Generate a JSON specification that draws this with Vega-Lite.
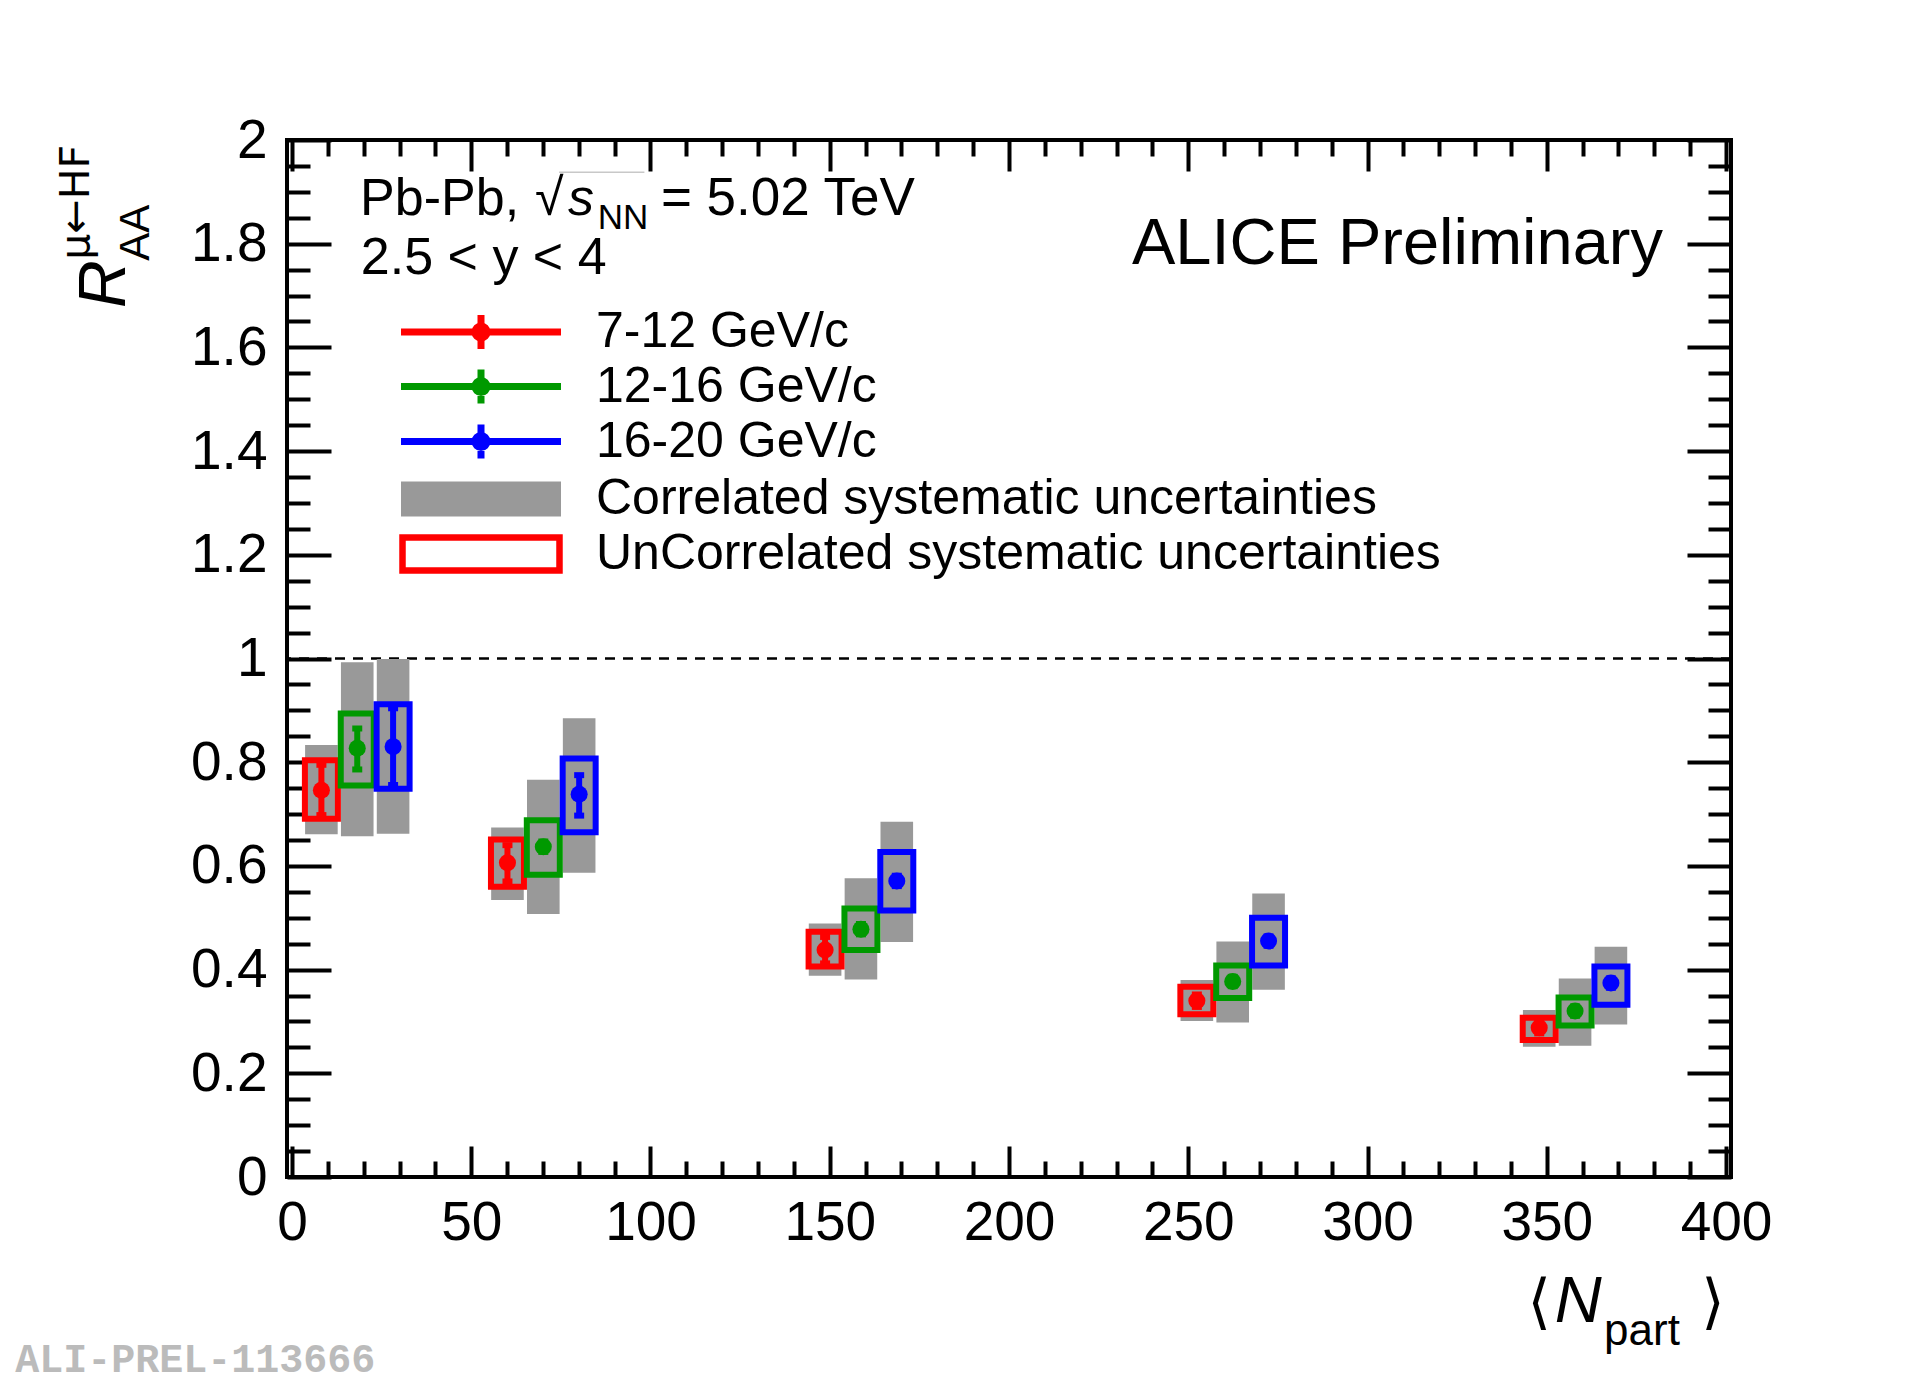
{
  "$schema": "https://vega.github.io/schema/vega-lite/v6.json",
  "width": 1444,
  "height": 1037,
  "autosize": "none",
  "padding": {"left": 287, "top": 140, "right": 189, "bottom": 208},
  "background": "white",
  "data": {
    "values": [
      {"npart": 8.2, "series": "7-12 GeV/c", "raa": 0.746, "stat_lo": 0.698, "stat_hi": 0.795, "unc_lo": 0.691, "unc_hi": 0.804, "cor_lo": 0.661, "cor_hi": 0.833},
      {"npart": 18.2, "series": "12-16 GeV/c", "raa": 0.827, "stat_lo": 0.786, "stat_hi": 0.865, "unc_lo": 0.755, "unc_hi": 0.894, "cor_lo": 0.657, "cor_hi": 0.993},
      {"npart": 28.2, "series": "16-20 GeV/c", "raa": 0.83, "stat_lo": 0.756, "stat_hi": 0.904, "unc_lo": 0.749, "unc_hi": 0.912, "cor_lo": 0.662, "cor_hi": 0.999},
      {"npart": 60.1, "series": "7-12 GeV/c", "raa": 0.606, "stat_lo": 0.57, "stat_hi": 0.64, "unc_lo": 0.56, "unc_hi": 0.651, "cor_lo": 0.534, "cor_hi": 0.674},
      {"npart": 70.1, "series": "12-16 GeV/c", "raa": 0.637, "stat_lo": 0.627, "stat_hi": 0.647, "unc_lo": 0.583, "unc_hi": 0.688, "cor_lo": 0.507, "cor_hi": 0.766},
      {"npart": 80.1, "series": "16-20 GeV/c", "raa": 0.738, "stat_lo": 0.697, "stat_hi": 0.775, "unc_lo": 0.665, "unc_hi": 0.807, "cor_lo": 0.587, "cor_hi": 0.885},
      {"npart": 148.7, "series": "7-12 GeV/c", "raa": 0.438, "stat_lo": 0.412, "stat_hi": 0.463, "unc_lo": 0.406, "unc_hi": 0.473, "cor_lo": 0.388, "cor_hi": 0.489},
      {"npart": 158.7, "series": "12-16 GeV/c", "raa": 0.478, "stat_lo": 0.468, "stat_hi": 0.488, "unc_lo": 0.438, "unc_hi": 0.518, "cor_lo": 0.381, "cor_hi": 0.576},
      {"npart": 168.7, "series": "16-20 GeV/c", "raa": 0.571, "stat_lo": 0.561, "stat_hi": 0.581, "unc_lo": 0.514, "unc_hi": 0.627, "cor_lo": 0.453, "cor_hi": 0.685},
      {"npart": 252.4, "series": "7-12 GeV/c", "raa": 0.34, "stat_lo": 0.328, "stat_hi": 0.352, "unc_lo": 0.314, "unc_hi": 0.367, "cor_lo": 0.301, "cor_hi": 0.38},
      {"npart": 262.4, "series": "12-16 GeV/c", "raa": 0.377, "stat_lo": 0.368, "stat_hi": 0.386, "unc_lo": 0.345, "unc_hi": 0.408, "cor_lo": 0.298, "cor_hi": 0.454},
      {"npart": 272.4, "series": "16-20 GeV/c", "raa": 0.455, "stat_lo": 0.446, "stat_hi": 0.464, "unc_lo": 0.408, "unc_hi": 0.5, "cor_lo": 0.361, "cor_hi": 0.547},
      {"npart": 347.9, "series": "7-12 GeV/c", "raa": 0.288, "stat_lo": 0.277, "stat_hi": 0.299, "unc_lo": 0.264, "unc_hi": 0.307, "cor_lo": 0.251, "cor_hi": 0.322},
      {"npart": 357.9, "series": "12-16 GeV/c", "raa": 0.32, "stat_lo": 0.311, "stat_hi": 0.329, "unc_lo": 0.292, "unc_hi": 0.346, "cor_lo": 0.253, "cor_hi": 0.383},
      {"npart": 367.9, "series": "16-20 GeV/c", "raa": 0.374, "stat_lo": 0.365, "stat_hi": 0.383, "unc_lo": 0.332, "unc_hi": 0.406, "cor_lo": 0.294, "cor_hi": 0.444}
    ]
  },
  "resolve": {"axis": {"x": "independent", "y": "independent"}, "legend": {"color": "independent"}},
  "layer": [
    {
      "data": {"values": [{}]},
      "mark": {"type": "rule", "color": "black", "strokeWidth": 2.5, "strokeDash": [10, 8]},
      "encoding": {
        "y": {"datum": 1, "type": "quantitative", "axis": null, "scale": {"domain": [0, 2], "nice": false}}
      }
    },
    {
      "mark": {"type": "bar", "width": 32.6, "strokeWidth": 0},
      "encoding": {
        "x": {
          "field": "npart", "type": "quantitative",
          "scale": {"domain": [0, 400], "nice": false},
          "axis": {
            "orient": "bottom",
            "values": [0,10,20,30,40,50,60,70,80,90,100,110,120,130,140,150,160,170,180,190,200,210,220,230,240,250,260,270,280,290,300,310,320,330,340,350,360,370,380,390,400],
            "domain": false, "grid": false, "ticks": true,
            "tickColor": "black", "tickWidth": 4,
            "tickSize": {"condition": {"test": "datum.value % 50 === 0", "value": -31}, "value": -16},
            "labelExpr": "datum.value % 50 === 0 ? format(datum.value, 'd') : ''",
            "labelFont": "Liberation Sans", "labelFontSize": 55, "labelColor": "black",
            "labelPadding": 50, "labelFlush": false, "labelOverlap": false, "labelBound": false,
            "title": null, "zindex": 0
          }
        },
        "y": {
          "field": "cor_lo", "type": "quantitative",
          "scale": {"domain": [0, 2], "nice": false},
          "axis": {
            "orient": "left",
            "values": [0,0.05,0.1,0.15,0.2,0.25,0.3,0.35,0.4,0.45,0.5,0.55,0.6,0.65,0.7,0.75,0.8,0.85,0.9,0.95,1,1.05,1.1,1.15,1.2,1.25,1.3,1.35,1.4,1.45,1.5,1.55,1.6,1.65,1.7,1.75,1.8,1.85,1.9,1.95,2],
            "domain": false, "grid": false, "ticks": true,
            "tickColor": "black", "tickWidth": 4,
            "tickSize": {"condition": {"test": "abs(datum.value * 5 - round(datum.value * 5)) < 0.001", "value": -44}, "value": -23},
            "labelExpr": "abs(datum.value * 5 - round(datum.value * 5)) < 0.001 ? format(datum.value, '~g') : ''",
            "labelFont": "Liberation Sans", "labelFontSize": 55, "labelColor": "black",
            "labelPadding": 64, "labelFlush": false, "labelOverlap": false, "labelBound": false,
            "title": null, "zindex": 0
          }
        },
        "y2": {"field": "cor_hi"},
        "fill": {
          "datum": "Correlated systematic uncertainties", "type": "nominal",
          "scale": {"range": ["#999999"]},
          "legend": {
            "orient": "none", "legendX": 169, "legendY": 334, "title": null, "padding": 0,
            "symbolType": "M-3.478,-0.761H3.478V0.761H-3.478Z",
            "symbolSize": 2116, "symbolStrokeWidth": 0,
            "labelFont": "Liberation Sans", "labelFontSize": 50, "labelColor": "black",
            "labelOffset": 90, "labelLimit": 2000
          }
        }
      }
    },
    {
      "mark": {"type": "bar", "filled": false, "width": 33, "strokeWidth": 6},
      "encoding": {
        "x": {
          "field": "npart", "type": "quantitative",
          "scale": {"domain": [0, 400], "nice": false},
          "axis": {
            "orient": "top",
            "values": [0,10,20,30,40,50,60,70,80,90,100,110,120,130,140,150,160,170,180,190,200,210,220,230,240,250,260,270,280,290,300,310,320,330,340,350,360,370,380,390,400],
            "domain": false, "grid": false, "ticks": true, "labels": false,
            "tickColor": "black", "tickWidth": 4,
            "tickSize": {"condition": {"test": "datum.value % 50 === 0", "value": -31}, "value": -16},
            "title": null, "zindex": 0
          }
        },
        "y": {
          "field": "unc_lo", "type": "quantitative",
          "scale": {"domain": [0, 2], "nice": false},
          "axis": {
            "orient": "right",
            "values": [0,0.05,0.1,0.15,0.2,0.25,0.3,0.35,0.4,0.45,0.5,0.55,0.6,0.65,0.7,0.75,0.8,0.85,0.9,0.95,1,1.05,1.1,1.15,1.2,1.25,1.3,1.35,1.4,1.45,1.5,1.55,1.6,1.65,1.7,1.75,1.8,1.85,1.9,1.95,2],
            "domain": false, "grid": false, "ticks": true, "labels": false,
            "tickColor": "black", "tickWidth": 4,
            "tickSize": {"condition": {"test": "abs(datum.value * 5 - round(datum.value * 5)) < 0.001", "value": -44}, "value": -23},
            "title": null, "zindex": 0
          }
        },
        "y2": {"field": "unc_hi"},
        "color": {
          "field": "series", "type": "nominal",
          "scale": {"domain": ["7-12 GeV/c", "12-16 GeV/c", "16-20 GeV/c"], "range": ["#ff0000", "#009900", "#0000ff"]},
          "legend": null
        },
        "opacity": {
          "datum": "UnCorrelated systematic uncertainties", "type": "ordinal",
          "scale": {"range": [1]},
          "legend": {
            "orient": "none", "legendX": 167.5, "legendY": 387.5, "title": null, "padding": 0,
            "symbolType": "M-3.413,-0.717H3.413V0.717H-3.413Z",
            "symbolSize": 2116, "symbolStrokeColor": "#ff0000", "symbolStrokeWidth": 6.5,
            "symbolFillColor": "transparent",
            "labelFont": "Liberation Sans", "labelFontSize": 50, "labelColor": "black",
            "labelOffset": 88.5, "labelLimit": 2000
          }
        }
      }
    },
    {
      "mark": {"type": "rule", "strokeWidth": 6, "opacity": 1},
      "encoding": {
        "x": {"field": "npart", "type": "quantitative", "axis": null},
        "y": {"field": "stat_lo", "type": "quantitative", "axis": null},
        "y2": {"field": "stat_hi"},
        "color": {
          "field": "series", "type": "nominal",
          "scale": {"domain": ["7-12 GeV/c", "12-16 GeV/c", "16-20 GeV/c"], "range": ["#ff0000", "#009900", "#0000ff"]},
          "legend": {
            "orient": "none", "legendX": 167.5, "legendY": 165.5, "title": null, "padding": 0,
            "values": ["7-12 GeV/c"],
            "symbolType": "M-3.478,0H3.478M0,-0.739V0.739M0.261,0A0.261,0.261,0,1,1,-0.261,0A0.261,0.261,0,1,1,0.261,0M0.109,0A0.109,0.109,0,1,1,-0.109,0A0.109,0.109,0,1,1,0.109,0",
            "symbolSize": 2116, "symbolStrokeWidth": 7, "symbolOpacity": 1,
            "labelFont": "Liberation Sans", "labelFontSize": 50, "labelColor": "black",
            "labelOffset": 88.5, "labelLimit": 2000
          }
        }
      }
    },
    {
      "mark": {"type": "tick", "orient": "horizontal", "size": 10, "thickness": 6, "opacity": 1},
      "encoding": {
        "x": {"field": "npart", "type": "quantitative", "axis": null},
        "y": {"field": "stat_lo", "type": "quantitative", "axis": null},
        "color": {
          "field": "series", "type": "nominal",
          "legend": {
            "orient": "none", "legendX": 167.5, "legendY": 220, "title": null, "padding": 0,
            "values": ["12-16 GeV/c"],
            "symbolType": "M-3.478,0H3.478M0,-0.739V0.739M0.261,0A0.261,0.261,0,1,1,-0.261,0A0.261,0.261,0,1,1,0.261,0M0.109,0A0.109,0.109,0,1,1,-0.109,0A0.109,0.109,0,1,1,0.109,0",
            "symbolSize": 2116, "symbolStrokeWidth": 7, "symbolOpacity": 1,
            "symbolStrokeColor": "#009900",
            "labelFont": "Liberation Sans", "labelFontSize": 50, "labelColor": "black",
            "labelOffset": 88.5, "labelLimit": 2000
          }
        }
      }
    },
    {
      "mark": {"type": "tick", "orient": "horizontal", "size": 10, "thickness": 6, "opacity": 1},
      "encoding": {
        "x": {"field": "npart", "type": "quantitative", "axis": null},
        "y": {"field": "stat_hi", "type": "quantitative", "axis": null},
        "color": {
          "field": "series", "type": "nominal",
          "legend": {
            "orient": "none", "legendX": 167.5, "legendY": 275, "title": null, "padding": 0,
            "values": ["16-20 GeV/c"],
            "symbolType": "M-3.478,0H3.478M0,-0.739V0.739M0.261,0A0.261,0.261,0,1,1,-0.261,0A0.261,0.261,0,1,1,0.261,0M0.109,0A0.109,0.109,0,1,1,-0.109,0A0.109,0.109,0,1,1,0.109,0",
            "symbolSize": 2116, "symbolStrokeWidth": 7, "symbolOpacity": 1,
            "symbolStrokeColor": "#0000ff",
            "labelFont": "Liberation Sans", "labelFontSize": 50, "labelColor": "black",
            "labelOffset": 88.5, "labelLimit": 2000
          }
        }
      }
    },
    {
      "mark": {"type": "point", "shape": "circle", "filled": true, "size": 290, "opacity": 1, "strokeWidth": 0},
      "encoding": {
        "x": {"field": "npart", "type": "quantitative", "axis": null},
        "y": {"field": "raa", "type": "quantitative", "axis": null},
        "color": {"field": "series", "type": "nominal", "legend": null}
      }
    },
    {
      "data": {"values": [{}]},
      "mark": {"type": "text", "text": "R", "font": "Liberation Sans", "fontSize": 66, "fontStyle": "italic", "align": "left", "baseline": "alphabetic", "angle": 270, "color": "black"},
      "encoding": {
        "x": {"datum": -46.6, "type": "quantitative", "axis": null},
        "y": {"datum": 1.676, "type": "quantitative", "axis": null}
      }
    },
    {
      "data": {"values": [{}]},
      "mark": {"type": "text", "text": "AA", "font": "Liberation Sans", "fontSize": 42, "align": "left", "baseline": "alphabetic", "angle": 270, "color": "black"},
      "encoding": {
        "x": {"datum": -39.9, "type": "quantitative", "axis": null},
        "y": {"datum": 1.767, "type": "quantitative", "axis": null}
      }
    },
    {
      "data": {"values": [{}]},
      "mark": {"type": "text", "text": "μ←HF", "font": "DejaVu Sans", "fontSize": 41, "align": "left", "baseline": "alphabetic", "angle": 270, "color": "black"},
      "encoding": {
        "x": {"datum": -56.7, "type": "quantitative", "axis": null},
        "y": {"datum": 1.769, "type": "quantitative", "axis": null}
      }
    },
    {
      "data": {"values": [{}]},
      "mark": {"type": "text", "text": "Pb-Pb,", "font": "Liberation Sans", "fontSize": 52, "align": "left", "baseline": "alphabetic", "color": "black"},
      "encoding": {
        "x": {"datum": 19.0, "type": "quantitative", "axis": null},
        "y": {"datum": 1.855, "type": "quantitative", "axis": null}
      }
    },
    {
      "data": {"values": [{}]},
      "mark": {"type": "text", "text": "√", "font": "Liberation Sans", "fontSize": 52, "align": "left", "baseline": "alphabetic", "color": "black"},
      "encoding": {
        "x": {"datum": 67.8, "type": "quantitative", "axis": null},
        "y": {"datum": 1.855, "type": "quantitative", "axis": null}
      }
    },
    {
      "data": {"values": [{}]},
      "mark": {"type": "rule", "color": "#c8c8c8", "strokeWidth": 1.5},
      "encoding": {
        "x": {"datum": 74.5, "type": "quantitative", "axis": null},
        "x2": {"datum": 98.3},
        "y": {"datum": 1.938, "type": "quantitative", "axis": null}
      }
    },
    {
      "data": {"values": [{}]},
      "mark": {"type": "text", "text": "s", "font": "Liberation Sans", "fontSize": 52, "fontStyle": "italic", "align": "left", "baseline": "alphabetic", "color": "black"},
      "encoding": {
        "x": {"datum": 77.0, "type": "quantitative", "axis": null},
        "y": {"datum": 1.855, "type": "quantitative", "axis": null}
      }
    },
    {
      "data": {"values": [{}]},
      "mark": {"type": "text", "text": "NN", "font": "Liberation Sans", "fontSize": 35, "align": "left", "baseline": "alphabetic", "color": "black"},
      "encoding": {
        "x": {"datum": 85.3, "type": "quantitative", "axis": null},
        "y": {"datum": 1.828, "type": "quantitative", "axis": null}
      }
    },
    {
      "data": {"values": [{}]},
      "mark": {"type": "text", "text": "= 5.02 TeV", "font": "Liberation Sans", "fontSize": 53, "align": "left", "baseline": "alphabetic", "color": "black"},
      "encoding": {
        "x": {"datum": 102.9, "type": "quantitative", "axis": null},
        "y": {"datum": 1.855, "type": "quantitative", "axis": null}
      }
    },
    {
      "data": {"values": [{}]},
      "mark": {"type": "text", "text": "2.5 < y < 4", "font": "Liberation Sans", "fontSize": 52, "align": "left", "baseline": "alphabetic", "color": "black"},
      "encoding": {
        "x": {"datum": 19.2, "type": "quantitative", "axis": null},
        "y": {"datum": 1.742, "type": "quantitative", "axis": null}
      }
    },
    {
      "data": {"values": [{}]},
      "mark": {"type": "text", "text": "ALICE Preliminary", "font": "Liberation Sans", "fontSize": 65, "align": "left", "baseline": "alphabetic", "color": "black"},
      "encoding": {
        "x": {"datum": 234.3, "type": "quantitative", "axis": null},
        "y": {"datum": 1.761, "type": "quantitative", "axis": null}
      }
    },
    {
      "data": {"values": [{}]},
      "mark": {"type": "text", "text": "⟨", "font": "DejaVu Sans", "fontSize": 60, "align": "left", "baseline": "alphabetic", "color": "black"},
      "encoding": {
        "x": {"datum": 344.6, "type": "quantitative", "axis": null},
        "y": {"datum": -0.28, "type": "quantitative", "axis": null}
      }
    },
    {
      "data": {"values": [{}]},
      "mark": {"type": "text", "text": "N", "font": "Liberation Sans", "fontSize": 65, "fontStyle": "italic", "align": "left", "baseline": "alphabetic", "color": "black"},
      "encoding": {
        "x": {"datum": 352.2, "type": "quantitative", "axis": null},
        "y": {"datum": -0.28, "type": "quantitative", "axis": null}
      }
    },
    {
      "data": {"values": [{}]},
      "mark": {"type": "text", "text": "part", "font": "Liberation Sans", "fontSize": 44, "align": "left", "baseline": "alphabetic", "color": "black"},
      "encoding": {
        "x": {"datum": 366.0, "type": "quantitative", "axis": null},
        "y": {"datum": -0.324, "type": "quantitative", "axis": null}
      }
    },
    {
      "data": {"values": [{}]},
      "mark": {"type": "text", "text": "⟩", "font": "DejaVu Sans", "fontSize": 60, "align": "right", "baseline": "alphabetic", "color": "black"},
      "encoding": {
        "x": {"datum": 399.6, "type": "quantitative", "axis": null},
        "y": {"datum": -0.28, "type": "quantitative", "axis": null}
      }
    },
    {
      "data": {"values": [{}]},
      "mark": {"type": "text", "text": "ALI-PREL-113666", "font": "Liberation Mono", "fontSize": 40, "fontWeight": "bold", "align": "left", "baseline": "alphabetic", "color": "#bbbbbb"},
      "encoding": {
        "x": {"datum": -77.2, "type": "quantitative", "axis": null},
        "y": {"datum": -0.376, "type": "quantitative", "axis": null}
      }
    }
  ],
  "config": {
    "font": "Liberation Sans",
    "view": {"stroke": "black", "strokeWidth": 4},
    "legend": {"padding": 0, "labelColor": "black"}
  }
}
